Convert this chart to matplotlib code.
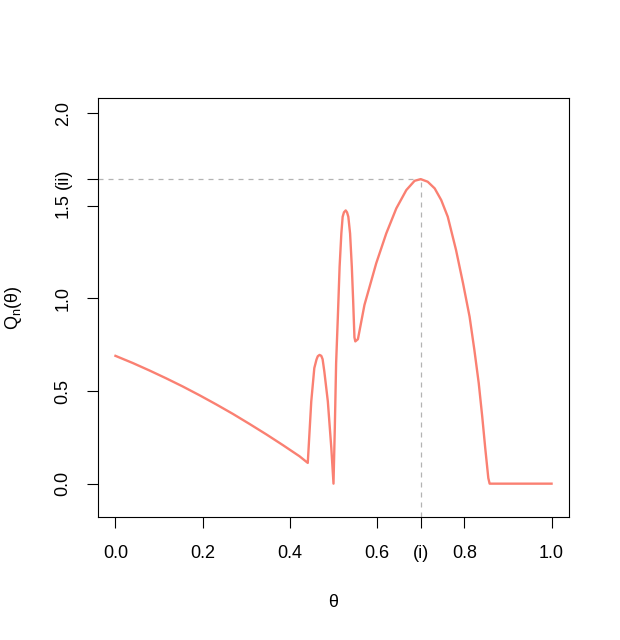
import matplotlib.pyplot as plt

plt.rcParams['font.family'] = ['Liberation Sans', 'DejaVu Sans']
plt.rcParams['mathtext.fontset'] = 'custom'
plt.rcParams['mathtext.rm'] = 'Liberation Sans'

# curve
theta = [0.0, 0.040, 0.078, 0.116, 0.154, 0.193, 0.231, 0.269, 0.307, 0.346,
         0.384, 0.422, 0.441, 0.449, 0.456, 0.461, 0.464, 0.468, 0.472, 0.475,
         0.479, 0.487, 0.495, 0.500, 0.503, 0.506, 0.510, 0.514, 0.518, 0.521,
         0.524, 0.528, 0.531, 0.534, 0.538, 0.542, 0.545, 0.548, 0.550, 0.556,
         0.571, 0.586, 0.598, 0.621, 0.644, 0.667, 0.686, 0.700, 0.716, 0.732,
         0.747, 0.762, 0.781, 0.797, 0.812, 0.823, 0.833, 0.841, 0.848, 0.855,
         0.858, 1.0]
q_n = [0.690, 0.651, 0.611, 0.569, 0.525, 0.477, 0.428, 0.377, 0.323, 0.266,
       0.208, 0.148, 0.112, 0.444, 0.624, 0.670, 0.688, 0.695, 0.690, 0.672,
       0.605, 0.444, 0.192, 0.0, 0.300, 0.650, 0.902, 1.171, 1.351, 1.441,
       1.465, 1.475, 1.465, 1.441, 1.351, 1.171, 0.992, 0.790, 0.768, 0.780,
       0.965, 1.090, 1.190, 1.351, 1.486, 1.585, 1.635, 1.644, 1.630, 1.594,
       1.531, 1.441, 1.261, 1.082, 0.902, 0.722, 0.543, 0.363, 0.190, 0.030,
       0.0, 0.0]

theta_max = 0.7
q_max = 1.644

xticks = [0.0, 0.2, 0.4, 0.6, 0.8, 1.0]
yticks = [0.0, 0.5, 1.0, 1.5, 2.0]

fs = 13
fig = plt.figure(figsize=(6.2, 6.4), dpi=100)
ax = fig.add_axes([98 / 620, 123 / 640, 471 / 620, 419 / 640])

ax.plot(theta, q_n, color='#FA8072', lw=1.7, zorder=3)

xlim = (-0.04, 1.04)
ylim = (-0.18, 2.082)
ax.plot([xlim[0], theta_max], [q_max, q_max], color='#B3B3B3', lw=0.9,
        ls=(0, (4, 4)), zorder=2)
ax.plot([theta_max, theta_max], [ylim[0], q_max], color='#B3B3B3', lw=0.9,
        ls=(0, (4, 4)), zorder=2)
ax.set_xlim(*xlim)
ax.set_ylim(*ylim)

ax.set_xticks(xticks + [theta_max])
ax.set_xticklabels([f'{v:.1f}' for v in xticks] + ['(i)'])
ax.set_yticks(yticks + [q_max])
ax.set_yticklabels([f'{v:.1f}' for v in yticks] + ['(ii)'])

ax.tick_params(axis='both', length=7.9, width=0.8, labelsize=fs, color='black')
ax.tick_params(axis='x', pad=12)
ax.tick_params(axis='y', pad=11)
for lab in ax.get_yticklabels():
    lab.set_rotation(90)
    lab.set_va('center')
    lab.set_ha('right')

for s in ax.spines.values():
    s.set_linewidth(0.8)

ax.set_xlabel('θ', fontsize=fs)
ax.xaxis.set_label_coords(0.5, -0.203)
ax.xaxis.label.set_va('center')
ax.set_ylabel('Q$_{\\mathregular{n}}$(θ)', fontsize=fs)
ax.yaxis.set_label_coords(-0.18, 0.5)
ax.yaxis.label.set_va('center')

fig.savefig('out.png', dpi=100)
